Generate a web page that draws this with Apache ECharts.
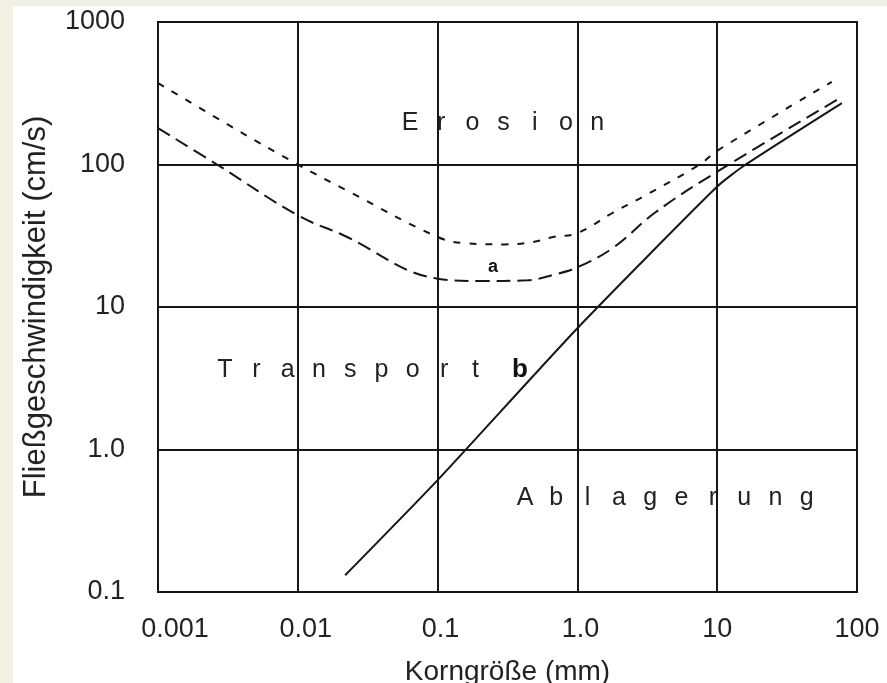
<!DOCTYPE html>
<html>
<head>
<meta charset="utf-8">
<script src="https://cdn.jsdelivr.net/npm/echarts@6/dist/echarts.min.js"></script>
<style>
  html, body { margin: 0; padding: 0; background: #f2efe3; }
  #box { position: absolute; left: 13px; top: 6px; width: 874px; height: 677px; background: #fff; }
</style>
</head>
<body>
<div id="box"></div>
<script>
// Korngröße (mm) / Fließgeschwindigkeit (cm/s)
const xTickLabels = ['0.001', '0.01', '0.1', '1.0', '10', '100'];
const yTickLabels = ['0.1', '1.0', '10', '100', '1000'];

// obere Kurve (kurz gestrichelt)
const upperX = [0.001, 0.00367, 0.01, 0.0236, 0.1, 0.16, 0.3, 0.48, 0.67, 1.0, 1.8, 2.9, 7.5, 10, 66];
const upperY = [373, 175, 100, 64, 31, 28, 27.5, 28.6, 31, 33, 46, 59, 100, 125, 380];

// Kurve a (lang gestrichelt)
const lowerX = [0.001, 0.00264, 0.01, 0.021, 0.1, 0.2, 0.44, 0.67, 1.0, 1.8, 3.6, 10, 78];
const lowerY = [180, 100, 44, 32, 15.8, 15.2, 15.4, 16.8, 19, 26, 46, 89, 298];

// Kurve b (durchgezogen)
const solidX = [0.0218, 0.1, 1.0, 10, 16, 78];
const solidY = [0.131, 0.61, 7.1, 70, 100, 270];

const pairs = (xs, ys) => xs.map((x, i) => [x, ys[i]]);
const ink = '#161616';
const fontFam = '"Liberation Sans", Arial, sans-serif';

// gesperrte Beschriftung: jeder Buchstabe einzeln
function spaced(word, x0, step, y) {
    return word.split('').map((ch, i) => ({
        type: 'text',
        x: x0 + i * step,
        y: y,
        style: { text: ch, font: '25px ' + fontFam, fill: '#222', align: 'center', verticalAlign: 'middle' }
    }));
}

// die ersten x-Beschriftungen stehen im Original etwas rechts vom Gitter
const xLabelStyles = ['p1', 'p2', 'p3', 'p3', 'p0', 'p0'];

const chart = echarts.init(document.getElementById('box'));

chart.setOption({
    animation: false,
    grid: {
        left: 145, top: 16, right: 30, bottom: 91,
        outerBoundsMode: 'none',
        containLabel: false,
        show: true, borderColor: ink, borderWidth: 2
    },
    xAxis: {
        type: 'log',
        logBase: 10,
        min: 0.001,
        max: 100,
        name: 'Korngröße (mm)',
        nameLocation: 'middle',
        nameGap: 66,
        nameTextStyle: { fontSize: 28, color: '#222', fontFamily: fontFam },
        axisLine: { lineStyle: { color: ink, width: 2 } },
        axisTick: { show: false },
        splitLine: { show: true, lineStyle: { color: ink, width: 2 } },
        axisLabel: {
            fontSize: 27, color: '#222', fontFamily: fontFam, margin: 24,
            formatter: v => {
                const i = Math.round(Math.log10(v)) + 3;
                return '{' + xLabelStyles[i] + '|' + xTickLabels[i] + '}';
            },
            rich: {
                p0: { fontSize: 27, fontFamily: fontFam, color: '#222' },
                p1: { fontSize: 27, fontFamily: fontFam, color: '#222', padding: [0, 0, 0, 34] },
                p2: { fontSize: 27, fontFamily: fontFam, color: '#222', padding: [0, 0, 0, 16] },
                p3: { fontSize: 27, fontFamily: fontFam, color: '#222', padding: [0, 0, 0, 6] }
            }
        }
    },
    yAxis: {
        type: 'log',
        logBase: 10,
        min: 0.1,
        max: 1000,
        name: 'Fließgeschwindigkeit (cm/s)',
        nameLocation: 'middle',
        nameRotate: 90,
        nameGap: 106,
        nameTextStyle: { fontSize: 31, color: '#222', fontFamily: fontFam },
        axisLine: { lineStyle: { color: ink, width: 2 } },
        axisTick: { show: false },
        splitLine: { show: true, lineStyle: { color: ink, width: 2 } },
        axisLabel: {
            fontSize: 27, color: '#222', fontFamily: fontFam, margin: 33,
            formatter: v => yTickLabels[Math.round(Math.log10(v)) + 1]
        }
    },
    series: [
        {
            name: 'upper',
            type: 'line',
            data: pairs(upperX, upperY),
            smooth: 0.4,
            showSymbol: false,
            lineStyle: { color: ink, width: 2, type: [7, 9] }
        },
        {
            name: 'a',
            type: 'line',
            data: pairs(lowerX, lowerY),
            smooth: 0.4,
            showSymbol: false,
            lineStyle: { color: ink, width: 2, type: [14, 7] }
        },
        {
            name: 'b',
            type: 'line',
            data: pairs(solidX, solidY),
            smooth: 0.2,
            showSymbol: false,
            lineStyle: { color: ink, width: 2 }
        }
    ],
    graphic: [].concat(
        spaced('Erosion', 397, 31.2, 117),
        spaced('Transport', 212, 31.3, 364),
        spaced('Ablagerung', 512, 31.3, 492),
        [
            { type: 'text', x: 480, y: 261, style: { text: 'a', font: 'bold 18px ' + fontFam, fill: '#111', align: 'center', verticalAlign: 'middle' } },
            { type: 'text', x: 507, y: 364, style: { text: 'b', font: 'bold 26px ' + fontFam, fill: '#111', align: 'center', verticalAlign: 'middle' } }
        ]
    )
});
</script>
</body>
</html>
